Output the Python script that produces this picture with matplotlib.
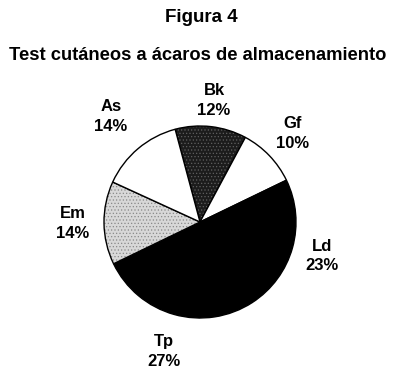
import numpy as np
import matplotlib.pyplot as plt

# Data
names = ['Bk', 'Gf', 'Ld', 'Tp', 'Em', 'As']
shares = [12, 10, 23, 27, 14, 14]
colors = ['#1c1c1c', 'white', 'black', 'black', '#d8d8d8', 'white']
hatches = ['.....', None, None, None, '.....', None]
hatch_colors = ['#606060', 'black', 'black', 'black', '#8a8a8a', 'black']
label_dist = [1.27, 1.33, 1.32, 1.40, 1.33, 1.44]

plt.rcParams['font.family'] = ['Liberation Sans', 'DejaVu Sans']
plt.rcParams['hatch.linewidth'] = 0.5

fig = plt.figure(figsize=(4.1, 3.9), dpi=100)
fig.patch.set_facecolor('white')

# pie placed at center (200, 222) px, radius 96 px
ax = fig.add_axes([(200 - 96) / 410, (390 - 222 - 96) / 390, 192 / 410, 192 / 390])
wedges, _ = ax.pie(shares, colors=colors, startangle=105, counterclock=False,
                   wedgeprops=dict(edgecolor='black', linewidth=1.0))
for w, h, hc in zip(wedges, hatches, hatch_colors):
    if h:
        w.set_hatch(h)
        w._hatch_color = plt.matplotlib.colors.to_rgba(hc)
ax.set_xlim(-1, 1)
ax.set_ylim(-1, 1)
ax.set_aspect('equal')

for w, name, pct, d in zip(wedges, names, shares, label_dist):
    ang = np.deg2rad((w.theta1 + w.theta2) / 2)
    ax.text(d * np.cos(ang), d * np.sin(ang), f'{name}\n{pct}%', ha='center', va='center',
            fontsize=12, fontweight='bold', linespacing=1.4)

fig.text(0.49, 1 - 18 / 390, 'Figura 4', ha='center', va='center', fontsize=13.5, fontweight='bold')
fig.text(0.482, 1 - 55 / 390, 'Test cutáneos a ácaros de almacenamiento', ha='center', va='center',
         fontsize=13.2, fontweight='bold')

fig.savefig('out.png', dpi=100)
